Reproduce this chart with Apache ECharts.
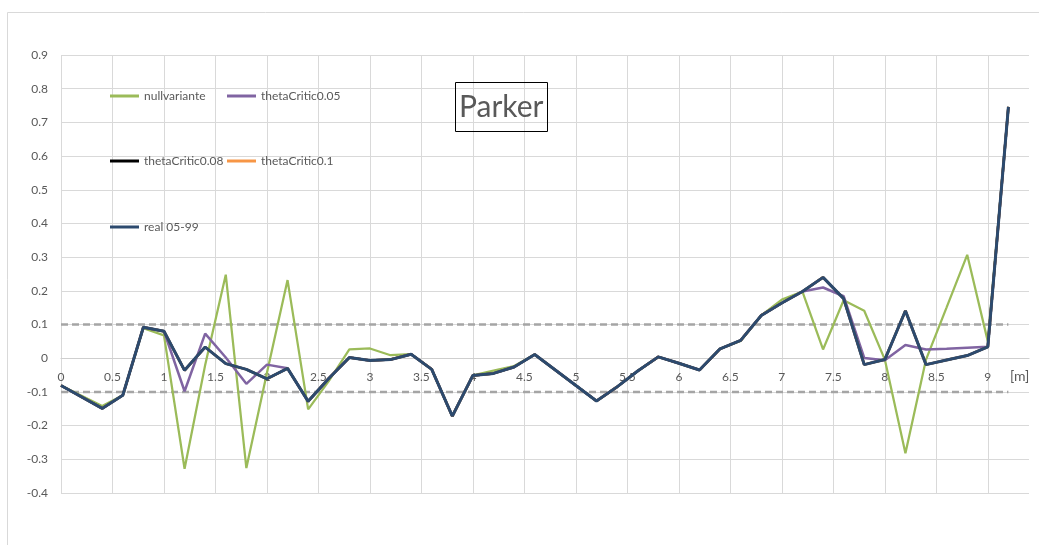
<!DOCTYPE html>
<html>
<head>
<meta charset="utf-8">
<script src="https://cdn.jsdelivr.net/npm/echarts@6/dist/echarts.min.js"></script>
<style>
html,body{margin:0;padding:0;background:#fff;}
#chart{width:1039px;height:545px;}
</style>
</head>
<body>
<div id="chart"></div>
<script>
// ---- data ----
const positions = [0, 0.4, 0.6, 0.8, 1.0, 1.2, 1.4, 1.6, 1.8, 2.0, 2.2, 2.4, 2.6, 2.8, 3.0, 3.2, 3.4, 3.6, 3.8, 4.0,
  4.2, 4.4, 4.6, 4.8, 5.0, 5.2, 5.4, 5.6, 5.8, 6.0, 6.2, 6.4, 6.6, 6.8, 7.0, 7.2, 7.4, 7.6, 7.8, 8.0,
  8.2, 8.4, 8.6, 8.8, 9.0, 9.2];

const nullvariante = [-0.081, -0.142, -0.110, 0.089, 0.068, -0.328, -0.020, 0.248, -0.326, -0.043, 0.232, -0.152, -0.068, 0.026, 0.029, 0.009, 0.012, -0.033, -0.172, -0.051,
  -0.037, -0.023, 0.011, -0.035, -0.081, -0.127, -0.085, -0.038, 0.004, -0.015, -0.035, 0.028, 0.051, 0.127, 0.174, 0.198, 0.026, 0.172, 0.141, -0.004,
  -0.282, -0.004, 0.151, 0.307, 0.050, 0.746];

const thetaCritic005 = [-0.081, -0.149, -0.110, 0.092, 0.080, -0.098, 0.073, 0.002, -0.076, -0.019, -0.030, -0.128, -0.060, 0.002, -0.007, -0.004, 0.012, -0.033, -0.172, -0.051,
  -0.045, -0.026, 0.011, -0.035, -0.081, -0.127, -0.085, -0.038, 0.004, -0.015, -0.035, 0.028, 0.053, 0.127, 0.164, 0.198, 0.210, 0.184, 0.001, -0.006,
  0.039, 0.026, 0.028, 0.031, 0.034, 0.746];

const thetaCritic008 = [-0.081, -0.149, -0.110, 0.092, 0.080, -0.036, 0.033, -0.016, -0.033, -0.061, -0.030, -0.128, -0.060, 0.002, -0.007, -0.004, 0.012, -0.033, -0.172, -0.051,
  -0.045, -0.026, 0.011, -0.035, -0.081, -0.127, -0.085, -0.038, 0.004, -0.015, -0.035, 0.028, 0.053, 0.127, 0.164, 0.198, 0.240, 0.177, -0.019, -0.004,
  0.141, -0.019, -0.005, 0.008, 0.034, 0.746];

const thetaCritic01 = [-0.081, -0.149, -0.110, 0.092, 0.080, -0.036, 0.033, -0.016, -0.033, -0.061, -0.030, -0.128, -0.060, 0.002, -0.007, -0.004, 0.012, -0.033, -0.172, -0.051,
  -0.045, -0.026, 0.011, -0.035, -0.081, -0.127, -0.085, -0.038, 0.004, -0.015, -0.035, 0.028, 0.053, 0.127, 0.164, 0.198, 0.240, 0.177, -0.019, -0.004,
  0.141, -0.019, -0.005, 0.008, 0.034, 0.746];

const real0599 = [-0.081, -0.149, -0.110, 0.092, 0.080, -0.036, 0.033, -0.016, -0.033, -0.061, -0.030, -0.128, -0.060, 0.002, -0.007, -0.004, 0.012, -0.033, -0.172, -0.051,
  -0.045, -0.026, 0.011, -0.035, -0.081, -0.127, -0.085, -0.038, 0.004, -0.015, -0.035, 0.028, 0.053, 0.127, 0.164, 0.198, 0.240, 0.177, -0.019, -0.004,
  0.141, -0.019, -0.005, 0.008, 0.034, 0.746];

const limitX = [0, 9.2];
const upperLimit = [0.1, 0.1];
const lowerLimit = [-0.1, -0.1];

const seriesNames = ['nullvariante', 'thetaCritic0.05', 'thetaCritic0.08', 'thetaCritic0.1', 'real 05-99'];
const chartTitle = 'Parker';
const xAxisName = '[m]';

// ---- chart ----
const FONT = "Lato, 'Open Sans', sans-serif";
const TXT = '#595959';
const GRID = '#d9d9d9';

function zip(xs, ys) { return xs.map((x, i) => [x, ys[i]]); }

const colors = ['#9BBB59', '#8064A2', '#000000', '#F79646', '#2C4A6E'];
const widths = [2.25, 2.5, 2.5, 2.5, 3];
const values = [nullvariante, thetaCritic005, thetaCritic008, thetaCritic01, real0599];

const dataSeries = seriesNames.map((n, i) => ({
  name: n, type: 'line', data: zip(positions, values[i]),
  symbol: 'none', smooth: false, color: colors[i],
  lineStyle: { color: colors[i], width: widths[i] }, z: 3 + i
}));

const limitStyle = { color: '#A5A5A5', width: 2.5, type: [7, 4] };
const limitSeries = [
  { name: 'upper', type: 'line', data: zip(limitX, upperLimit), symbol: 'none', lineStyle: limitStyle, silent: true, z: 2 },
  { name: 'lower', type: 'line', data: zip(limitX, lowerLimit), symbol: 'none', lineStyle: limitStyle, silent: true, z: 2 }
];

const legendPos = [[110, 90], [227, 90], [110, 155], [227, 155], [110, 221]];
const legends = seriesNames.map((n, i) => ({
  data: [n], left: legendPos[i][0], top: legendPos[i][1], padding: 0,
  icon: 'rect', itemWidth: 29, itemHeight: 3,
  textStyle: { fontFamily: FONT, fontSize: 12, color: TXT }
}));

const vColors = [];
for (let i = 0; i < 19; i++) vColors.push(GRID);
vColors.push('rgba(0,0,0,0)');

const xAxisOpt = {
  type: 'value', min: 0, max: 9.4, interval: 0.5,
  name: xAxisName, nameLocation: 'end', nameGap: -19,
  nameTextStyle: { fontFamily: FONT, fontSize: 14, color: TXT, verticalAlign: 'top', padding: [11, 0, 0, 0] },
  axisLine: { onZero: false, lineStyle: { color: '#cfcfcf', width: 1.2 } },
  axisTick: { show: false },
  axisLabel: { showMaxLabel: false, margin: 13, fontFamily: FONT, fontSize: 12, color: TXT },
  splitLine: { show: true, lineStyle: { color: vColors, width: 1 } },
  offset: 0
};

const chart = echarts.init(document.getElementById('chart'), null, { renderer: 'canvas' });
chart.setOption({
  animation: false,
  backgroundColor: '#fff',
  textStyle: { fontFamily: FONT },
  graphic: [{
    type: 'rect', z: -10, silent: true,
    shape: { x: 7.5, y: 12.5, width: 1100, height: 700 },
    style: { fill: 'none', stroke: GRID, lineWidth: 1 }
  }],
  title: {
    text: chartTitle, left: 455, top: 82,
    padding: [10, 4, 10, 4], borderWidth: 1, borderColor: '#000',
    textStyle: { fontFamily: FONT, fontSize: 30, fontWeight: 'normal', color: TXT }
  },
  legend: legends,
  grid: { left: 61, right: 10, top: 55, bottom: 52, containLabel: false },
  xAxis: xAxisOpt,
  yAxis: {
    type: 'value', min: -0.4, max: 0.9, interval: 0.1,
    axisLine: { show: false }, axisTick: { show: false },
    axisLabel: { margin: 13, fontFamily: FONT, fontSize: 12, color: TXT },
    splitLine: { show: true, lineStyle: { color: GRID, width: 1 } }
  },
  series: limitSeries.concat(dataSeries)
});

// place the x axis (line, labels, name) on the y = 0 line using the library's y scale
const zeroY = chart.convertToPixel({ yAxisIndex: 0 }, 0);
const bottomY = chart.convertToPixel({ yAxisIndex: 0 }, -0.4);
chart.setOption({ xAxis: { offset: -(bottomY - zeroY) } });
</script>
</body>
</html>
